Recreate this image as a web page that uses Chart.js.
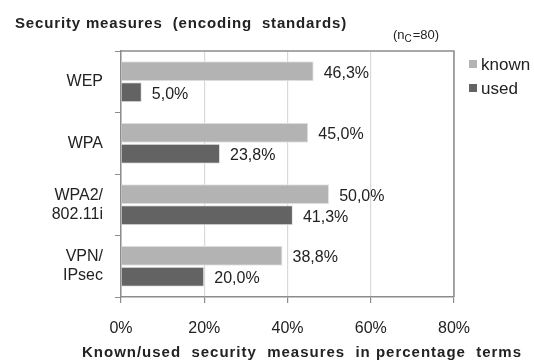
<!DOCTYPE html>
<html>
<head>
<meta charset="utf-8">
<script src="https://cdn.jsdelivr.net/npm/chart.js@4"></script>
<style>
  html, body { margin: 0; padding: 0; background: #fff; }
  #wrap { width: 534px; height: 360px; position: relative; }
</style>
</head>
<body>
<div id="wrap"><canvas id="chart" width="534" height="360"></canvas></div>
<script>
const categories = [['WEP'], ['WPA'], ['WPA2/', '802.11i'], ['VPN/', 'IPsec']];
const knownValues = [46.3, 45.0, 50.0, 38.8];
const usedValues = [5.0, 23.8, 41.3, 20.0];
const xTicks = [0, 20, 40, 60, 80];
const seriesNames = ['known', 'used'];
const colors = ['#b3b3b3', '#636363'];

const FONT = '"Liberation Sans", Arial, sans-serif';

function fmt(v) {
    return v.toFixed(1).replace('.', ',') + '%';
}

// draws text stretched by letter spacing so it spans a given width
function fitText(ctx, text, x, y, width) {
    ctx.letterSpacing = '0px';
    const w = ctx.measureText(text).width;
    ctx.letterSpacing = ((width - w) / text.length) + 'px';
    ctx.fillText(text, x, y);
    ctx.letterSpacing = '0px';
}

const decorations = {
    id: 'decorations',
    afterDraw(chart) {
        const ctx = chart.ctx;
        const area = chart.chartArea;
        ctx.save();

        // box round the plot
        ctx.strokeStyle = '#8c8c8c';
        ctx.lineWidth = 1.5;
        ctx.beginPath();
        ctx.moveTo(area.left, area.top);
        ctx.lineTo(area.right, area.top);
        ctx.lineTo(area.right, area.bottom);
        ctx.stroke();

        // value labels
        ctx.fillStyle = '#222';
        ctx.font = '16px ' + FONT;
        ctx.textBaseline = 'middle';
        ctx.textAlign = 'left';
        chart.data.datasets.forEach((ds, i) => {
            chart.getDatasetMeta(i).data.forEach((bar, j) => {
                ctx.fillText(fmt(ds.data[j]), bar.x + 10, bar.y + 2);
            });
        });

        // title
        ctx.font = 'bold 15px ' + FONT;
        ctx.textBaseline = 'alphabetic';
        fitText(ctx, 'Security measures  (encoding  standards)', 15, 28, 332);

        // sample size
        ctx.font = '13px ' + FONT;
        let x = 393;
        ctx.fillText('(n', x, 39);
        x += ctx.measureText('(n').width;
        ctx.font = '10px ' + FONT;
        ctx.fillText('C', x, 42);
        x += ctx.measureText('C').width + 1;
        ctx.font = '13px ' + FONT;
        ctx.fillText('=80)', x, 39);

        // legend
        ctx.font = '17px ' + FONT;
        ctx.textBaseline = 'middle';
        seriesNames.forEach((name, i) => {
            const y = 65 + i * 24;
            ctx.fillStyle = colors[i];
            ctx.fillRect(469, y - 5, 8, 8);
            ctx.fillStyle = '#222';
            ctx.fillText(name, 481, y);
        });

        // x axis title
        ctx.font = 'bold 15px ' + FONT;
        fitText(ctx, 'Known/used  security  measures  in percentage  terms', 82, 353, 440);
        ctx.restore();
    }
};

new Chart(document.getElementById('chart'), {
    type: 'bar',
    data: {
        labels: categories,
        datasets: [
            { label: seriesNames[0], data: knownValues, backgroundColor: colors[0], borderColor: '#e6e6e6', borderWidth: 1 },
            { label: seriesNames[1], data: usedValues, backgroundColor: colors[1], borderColor: '#e6e6e6', borderWidth: 1 }
        ]
    },
    options: {
        indexAxis: 'y',
        responsive: false,
        animation: false,
        layout: { padding: { left: 0, top: 51, right: 80, bottom: 0 } },
        plugins: {
            legend: { display: false },
            tooltip: { enabled: false }
        },
        datasets: {
            bar: { categoryPercentage: 0.68, barPercentage: 0.95 }
        },
        scales: {
            x: {
                min: 0,
                max: 80,
                afterBuildTicks(scale) { scale.ticks = xTicks.map(v => ({ value: v })); },
                afterFit(scale) { scale.height = 63; },
                ticks: {
                    callback: v => v + '%',
                    color: '#222',
                    font: { size: 16, family: FONT },
                    padding: 16
                },
                grid: { color: '#d9d9d9', tickColor: '#8c8c8c', tickLength: 6, lineWidth: 1.2 },
                border: { color: '#8c8c8c', width: 1.5 }
            },
            y: {
                afterFit(scale) { scale.width = 121; },
                ticks: {
                    color: '#222',
                    font: { size: 16, family: FONT },
                    padding: 12
                },
                grid: { drawOnChartArea: false, offset: true, tickColor: '#8c8c8c', tickLength: 6 },
                border: { color: '#8c8c8c', width: 1.5 }
            }
        }
    },
    plugins: [decorations]
});
</script>
</body>
</html>
